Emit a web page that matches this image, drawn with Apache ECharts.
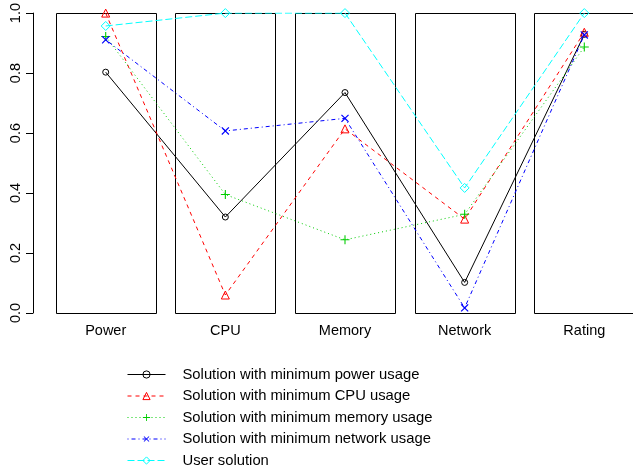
<!DOCTYPE html>
<html>
<head>
<meta charset="utf-8">
<script src="https://cdn.jsdelivr.net/npm/echarts@6/dist/echarts.min.js"></script>
<style>
html,body{margin:0;padding:0;background:#fff;}
#c{width:633px;height:473px;}
</style>
</head>
<body>
<div id="c"></div>
<script>
var categories = ['Power', 'CPU', 'Memory', 'Network', 'Rating'];
var categoryPos = [1, 2, 3, 4, 5];
var yTicks = [0, 0.2, 0.4, 0.6, 0.8, 1.0];
var boxTop = [1, 1, 1, 1, 1];
var minPower = [0.803, 0.320, 0.735, 0.102, 0.929];
var minCPU = [1.000, 0.060, 0.614, 0.313, 0.936];
var minMemory = [0.922, 0.395, 0.244, 0.329, 0.887];
var minNetwork = [0.911, 0.607, 0.649, 0.017, 0.927];
var userSolution = [0.957, 1.000, 1.000, 0.417, 1.000];
var seriesNames = [
  'Solution with minimum power usage',
  'Solution with minimum CPU usage',
  'Solution with minimum memory usage',
  'Solution with minimum network usage',
  'User solution'
];

var FONT = "'Liberation Sans', Arial, Helvetica, sans-serif";
var PLUS = 'path://M-0.12,-1H0.12V-0.12H1V0.12H0.12V1H-0.12V0.12H-1V-0.12H-0.12Z';
var BOX_W = 0.836; // box width in category units

function pairs(vals) {
  return vals.map(function (v, i) { return [categoryPos[i], v]; });
}

function lineSeries(name, data, color, dash, symbol, size, hollow, rot) {
  return {
    name: name,
    type: 'line',
    data: pairs(data),
    z: 5,
    symbol: symbol,
    symbolSize: size,
    symbolRotate: rot || 0,
    showSymbol: true,
    lineStyle: { color: color, width: 1, type: dash },
    itemStyle: hollow
      ? { color: 'rgba(255,255,255,0)', borderColor: color, borderWidth: 1 }
      : { color: color },
    emphasis: { disabled: true },
    silent: true
  };
}

var chart = echarts.init(document.getElementById('c'), null, { renderer: 'canvas' });
chart.setOption({
  animation: false,
  backgroundColor: '#fff',
  textStyle: { fontFamily: FONT },
  grid: { left: 45.87, top: 12, right: 0, bottom: 160, containLabel: false },
  xAxis: {
    type: 'value',
    min: 0.5,
    max: 5.407,
    axisLine: { show: false },
    axisTick: { show: false },
    splitLine: { show: false },
    axisLabel: {
      color: '#000', fontSize: 14.5, fontFamily: FONT, margin: 10,
      customValues: categoryPos,
      showMinLabel: true, showMaxLabel: true,
      formatter: function (v) { return categories[Math.round(v) - 1] || ''; }
    }
  },
  yAxis: {
    type: 'value',
    min: 0,
    max: 1,
    interval: 0.2,
    offset: 12.87,
    axisLine: { show: true, lineStyle: { color: '#000', width: 1 } },
    axisTick: { show: true, length: 7, lineStyle: { color: '#000', width: 1 } },
    splitLine: { show: false },
    axisLabel: {
      color: '#000', fontSize: 14.5, fontFamily: FONT, rotate: 90, margin: 10,
      formatter: function (v) { return v.toFixed(1); }
    }
  },
  legend: {
    data: seriesNames,
    orient: 'vertical',
    left: 127,
    top: 367,
    height: 106,
    padding: 0,
    itemWidth: 38,
    itemHeight: 9,
    itemGap: 6.5,
    selectedMode: false,
    lineStyle: { width: 1 },
    itemStyle: { borderWidth: 1 },
    textStyle: { color: '#000', fontSize: 14.8, lineHeight: 14.8, fontFamily: FONT, padding: [0, 0, 0, 12] }
  },
  series: [
    {
      name: 'boxes',
      type: 'custom',
      z: 1,
      silent: true,
      data: pairs(boxTop),
      encode: { x: 0, y: 1 },
      renderItem: function (params, api) {
        var top = api.coord([api.value(0), api.value(1)]);
        var bot = api.coord([api.value(0), 0]);
        var w = api.size([BOX_W, 0])[0];
        return {
          type: 'rect',
          shape: { x: Math.round(top[0] - w / 2) + 0.5, y: Math.round(top[1]) + 0.5, width: Math.round(w), height: Math.round(bot[1] - top[1]) },
          style: { fill: 'none', stroke: '#000', lineWidth: 1 }
        };
      }
    },
    lineSeries(seriesNames[0], minPower, '#000000', 'solid', 'circle', 6, true),
    lineSeries(seriesNames[1], minCPU, '#FF0000', [4, 4], 'triangle', 8, true),
    lineSeries(seriesNames[2], minMemory, '#00CD00', [1, 3], PLUS, 9, false),
    lineSeries(seriesNames[3], minNetwork, '#0000FF', [1, 3, 4, 3], PLUS, 10, false, 45),
    lineSeries(seriesNames[4], userSolution, '#00FFFF', [7, 3], 'diamond', 9, true)
  ]
});
</script>
</body>
</html>
